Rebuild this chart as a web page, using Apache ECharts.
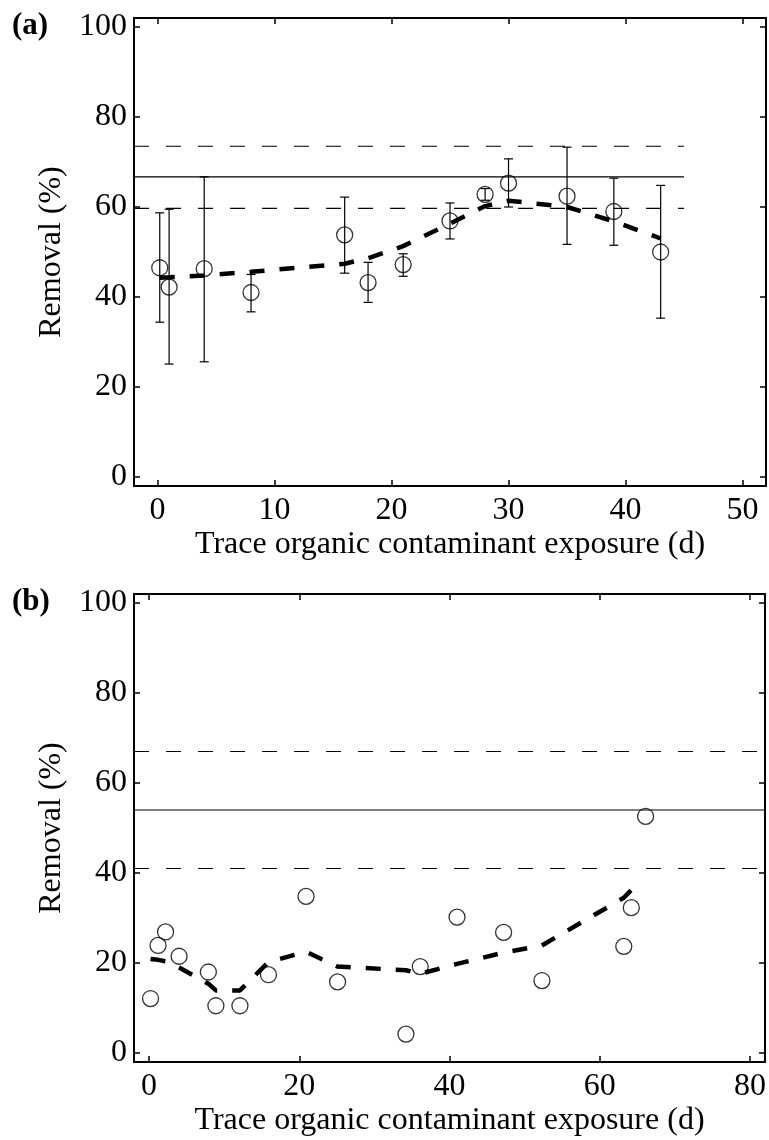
<!DOCTYPE html>
<html>
<head>
<meta charset="utf-8">
<script src="https://cdn.jsdelivr.net/npm/echarts@6/dist/echarts.min.js"></script>
<style>html,body{margin:0;padding:0;background:#fff}#c{width:769px;height:1140px}</style>
</head>
<body>
<div id="c"></div>
<script>
// ---------- data ----------
const yTicks = [0, 20, 40, 60, 80, 100];
const xTicksA = [0, 10, 20, 30, 40, 50];
const xTicksB = [0, 20, 40, 60, 80];

// Panel (a)
const daysA    = [0.2, 1, 4, 8, 16, 18, 21, 25, 28, 30, 35, 39, 43];
const removalA = [46.5, 42.2, 46.3, 41.0, 53.8, 43.2, 47.2, 56.9, 62.8, 65.3, 62.4, 59.0, 50.0];
const errLowA  = [34.4, 25.1, 25.6, 36.7, 45.3, 38.8, 44.6, 52.9, 61.5, 60.0, 51.7, 51.5, 35.3];
const errHighA = [58.7, 59.5, 66.7, 45.0, 62.2, 47.7, 49.6, 60.9, 64.1, 70.7, 73.3, 66.4, 64.8];
const trendXA  = [0.2, 1, 4, 8, 16, 18, 21, 25, 28, 30, 35, 39, 43];
const trendYA  = [44.3, 44.4, 44.8, 45.6, 47.4, 48.6, 51.3, 56.3, 60.2, 61.4, 60.0, 56.8, 53.0];
const refMeanA = 66.7, refUpperA = 73.5, refLowerA = 59.7;
const refSpanA = [-2, 45];

// Panel (b)
const daysB    = [0.2, 1.2, 2.2, 4, 7.9, 8.9, 12.1, 15.9, 20.9, 25.1, 34.2, 36.1, 41, 47.2, 52.3, 63.2, 64.2, 66.1];
const removalB = [12.1, 23.9, 26.9, 21.5, 18.0, 10.5, 10.5, 17.4, 34.8, 15.8, 4.2, 19.2, 30.2, 26.8, 16.1, 23.7, 32.3, 52.6];
const trendXB  = [0.2, 1.2, 2.2, 4, 7.9, 8.9, 12.1, 15.9, 20.9, 25.1, 34.2, 36.1, 41, 47.2, 52.3, 63.2, 64.2];
const trendYB  = [20.9, 20.7, 20.4, 19.0, 15.4, 13.9, 13.9, 20.2, 22.5, 19.2, 18.4, 17.6, 19.8, 22.3, 23.9, 34.5, 36.2];
const refMeanB = 54.0, refUpperB = 67.0, refLowerB = 41.0;
const refSpanB = [-2, 82];

// ---------- helpers ----------
const FONT = '"Liberation Serif", "Times New Roman", serif';
const FS = 32;
const zip = (a, b) => a.map((v, i) => [v, b[i]]);

function xAxes(gi, min, max, ticks) {
  const common = {
    type: 'value', gridIndex: gi, min: min, max: max,
    splitLine: { show: false },
    axisLine: { show: true, onZero: false, lineStyle: { color: '#000', width: 2 } },
    axisTick: { show: true, inside: true, length: 6, customValues: ticks, lineStyle: { color: '#000', width: 1.5 } }
  };
  return [
    Object.assign({}, common, {
      position: 'bottom',
      axisLabel: { show: true, customValues: ticks, margin: 9, fontSize: FS, fontFamily: FONT, color: '#000' },
      name: 'Trace organic contaminant exposure (d)', nameLocation: 'middle', nameGap: 43,
      nameTextStyle: { fontSize: FS, fontFamily: FONT, color: '#000' }
    }),
    Object.assign({}, common, { position: 'top', axisLabel: { show: false } })
  ];
}
function yAxes(gi) {
  const common = {
    type: 'value', gridIndex: gi, min: -2, max: 102,
    splitLine: { show: false },
    axisLine: { show: true, onZero: false, lineStyle: { color: '#000', width: 2 } },
    axisTick: { show: true, inside: true, length: 6, customValues: yTicks, lineStyle: { color: '#000', width: 1.5 } }
  };
  return [
    Object.assign({}, common, {
      position: 'left',
      axisLabel: { show: true, customValues: yTicks, margin: 7, fontSize: FS, fontFamily: FONT, color: '#000' },
      name: 'Removal (%)', nameLocation: 'middle', nameGap: 66,
      nameTextStyle: { fontSize: FS, fontFamily: FONT, color: '#000' }
    }),
    Object.assign({}, common, { position: 'right', axisLabel: { show: false } })
  ];
}
function refLine(xi, yi, span, val, dashed) {
  return {
    type: 'line', xAxisIndex: xi, yAxisIndex: yi, data: [[span[0], val], [span[1], val]],
    symbol: 'none', silent: true, animation: false,
    lineStyle: { color: '#000', width: 1.2, type: dashed ? [15, 17] : 'solid' }, z: 1
  };
}
function trend(xi, yi, xs, ys) {
  return {
    type: 'line', xAxisIndex: xi, yAxisIndex: yi, data: zip(xs, ys),
    symbol: 'none', silent: true, animation: false,
    lineStyle: { color: '#000', width: 4.5, type: [15, 15], cap: 'butt' }, z: 2
  };
}
function pts(xi, yi, xs, ys) {
  return {
    type: 'scatter', xAxisIndex: xi, yAxisIndex: yi, data: zip(xs, ys),
    symbol: 'circle', symbolSize: 16, animation: false, silent: true,
    itemStyle: { color: 'rgba(0,0,0,0)', borderColor: '#000', borderWidth: 1.3 }, z: 4
  };
}

const errData = daysA.map((d, i) => [d, errLowA[i], errHighA[i]]);

const option = {
  backgroundColor: '#fff',
  animation: false,
  grid: [
    { left: 134, top: 18, width: 632, height: 468 },
    { left: 134, top: 594, width: 632, height: 468 }
  ],
  xAxis: [].concat(xAxes(0, -2, 52, xTicksA), xAxes(1, -2, 82, xTicksB)),
  yAxis: [].concat(yAxes(0), yAxes(1)),
  graphic: [
    { type: 'text', left: 12, top: 10, style: { text: '(a)', font: 'bold 31px ' + FONT, fill: '#000' } },
    { type: 'text', left: 12, top: 586, style: { text: '(b)', font: 'bold 31px ' + FONT, fill: '#000' } }
  ],
  series: [
    refLine(0, 0, refSpanA, refUpperA, true),
    refLine(0, 0, refSpanA, refMeanA, false),
    refLine(0, 0, refSpanA, refLowerA, true),
    trend(0, 0, trendXA, trendYA),
    {
      type: 'custom', xAxisIndex: 0, yAxisIndex: 0, data: errData, silent: true, z: 3,
      renderItem: function (params, api) {
        const x = api.value(0), lo = api.value(1), hi = api.value(2);
        const t = api.coord([x, hi]), b = api.coord([x, lo]);
        const hw = 4.5, st = { stroke: '#000', lineWidth: 1.2 };
        return { type: 'group', children: [
          { type: 'line', shape: { x1: t[0], y1: t[1], x2: b[0], y2: b[1] }, style: st },
          { type: 'line', shape: { x1: t[0] - hw, y1: t[1], x2: t[0] + hw, y2: t[1] }, style: st },
          { type: 'line', shape: { x1: b[0] - hw, y1: b[1], x2: b[0] + hw, y2: b[1] }, style: st }
        ]};
      }
    },
    pts(0, 0, daysA, removalA),

    refLine(2, 2, refSpanB, refUpperB, true),
    refLine(2, 2, refSpanB, refMeanB, false),
    refLine(2, 2, refSpanB, refLowerB, true),
    trend(2, 2, trendXB, trendYB),
    pts(2, 2, daysB, removalB)
  ]
};

const chart = echarts.init(document.getElementById('c'), null, { renderer: 'canvas' });
chart.setOption(option);
</script>
</body>
</html>
